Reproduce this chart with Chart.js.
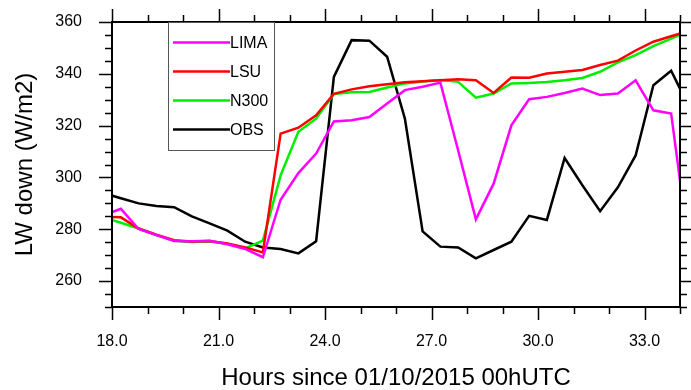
<!DOCTYPE html>
<html>
<head>
<meta charset="utf-8">
<script src="https://cdn.jsdelivr.net/npm/chart.js@4.4.1/dist/chart.umd.min.js"></script>
<style>
  html, body { margin: 0; padding: 0; background: #fff; }
  #wrap { width: 691px; height: 390px; }
</style>
</head>
<body>
<div id="wrap"><canvas id="lwChart" width="691" height="390"></canvas></div>
<script>
// DATA
const hours = [17.75, 18.25, 18.75, 19.25, 19.75, 20.25, 20.75, 21.25, 21.75, 22.25,
               22.75, 23.25, 23.75, 24.25, 24.75, 25.25, 25.75, 26.25, 26.75, 27.25,
               27.75, 28.25, 28.75, 29.25, 29.75, 30.25, 30.75, 31.25, 31.75, 32.25,
               32.75, 33.25, 33.75, 34.25];

const lima = [285.3, 287.9, 280.1, 277.8, 275.5, 275.4, 275.6, 274.2, 272.4, 269.2,
              291.4, 301.7, 309.2, 321.6, 322.1, 323.3, 328.5, 333.7, 335.0, 336.6,
              310.5, 283.8, 297.6, 320.1, 330.2, 331.1, 332.6, 334.3, 331.8, 332.4,
              337.5, 325.9, 324.7, 272.9];

const lsu = [284.8, 284.6, 280.3, 277.9, 275.8, 275.3, 275.5, 274.5, 273.0, 271.1,
             316.9, 319.2, 324.0, 332.3, 334.0, 335.2, 336.0, 336.7, 337.1, 337.5,
             337.9, 337.5, 332.6, 338.6, 338.5, 340.1, 340.8, 341.5, 343.4, 345.1,
             349.0, 352.4, 354.5, 356.5];

const n300 = [284.7, 282.5, 280.3, 277.8, 275.6, 275.1, 275.3, 274.4, 272.6, 275.6,
              300.8, 317.6, 322.7, 332.2, 332.9, 333.0, 334.7, 336.3, 337.0, 337.6,
              336.9, 330.8, 332.4, 336.3, 336.5, 336.8, 337.5, 338.4, 340.8, 344.4,
              347.2, 350.7, 353.6, 356.5];

const obs = [294.0, 292.0, 290.0, 289.0, 288.5, 285.0, 282.3, 279.5, 275.2, 273.0,
             272.4, 270.7, 275.4, 338.8, 353.0, 352.8, 346.6, 322.7, 279.2, 273.3,
             273.0, 268.8, 272.0, 275.2, 285.2, 283.6, 307.5, 297.0, 287.0, 296.2,
             308.5, 335.6, 341.2, 327.4];

const seriesNames = ['LIMA', 'LSU', 'N300', 'OBS'];
const seriesColors = ['#ff00ff', '#ff0000', '#00ee00', '#000000'];
const xMin = 18, xMax = 34, xMajor = 3, xMinor = 1;
const yMin = 250, yMax = 360, yMajor = 20, yMinor = 5;

Chart.defaults.font.family = "'Liberation Sans', Arial, Helvetica, sans-serif";
Chart.defaults.color = '#000';

function toPoints(vals) {
    return vals.map(function(v, i) { return {x: hours[i], y: v}; });
}

// frame with outward major/minor ticks on all four sides
const frameTicks = {
    id: 'frameTicks',
    afterDraw(chart) {
        const ctx = chart.ctx, a = chart.chartArea;
        const x = chart.scales.x, y = chart.scales.y;
        ctx.save();
        ctx.strokeStyle = '#000';
        ctx.lineWidth = 1.5;
        ctx.beginPath();
        for (let v = xMin; v <= xMax; v += xMinor) {
            const px = Math.round(x.getPixelForValue(v)) + 0.5;
            const len = ((v - xMin) % xMajor === 0) ? 13 : 7;
            ctx.moveTo(px, a.bottom); ctx.lineTo(px, a.bottom + len);
            ctx.moveTo(px, a.top); ctx.lineTo(px, a.top - len);
        }
        for (let v = yMin; v <= yMax; v += yMinor) {
            const py = Math.round(y.getPixelForValue(v)) + 0.5;
            const len = (v % yMajor === 0) ? 13 : 7;
            ctx.moveTo(a.left, py); ctx.lineTo(a.left - len, py);
            ctx.moveTo(a.right, py); ctx.lineTo(a.right + len, py);
        }
        ctx.stroke();
        ctx.lineWidth = 2;
        ctx.strokeRect(a.left, a.top, a.right - a.left, a.bottom - a.top);
        ctx.restore();
    }
};

// boxed legend inside the plot, top left
const boxLegend = {
    id: 'boxLegend',
    afterDraw(chart) {
        const ctx = chart.ctx, a = chart.chartArea;
        const bx = a.left + 56, by = a.top, bw = 106, bh = 128;
        ctx.save();
        ctx.fillStyle = '#fff';
        ctx.fillRect(bx, by, bw, bh);
        ctx.strokeStyle = '#555';
        ctx.lineWidth = 1;
        ctx.strokeRect(bx + 0.5, by + 0.5, bw, bh);
        ctx.font = "16px 'Liberation Sans', Arial, sans-serif";
        ctx.textBaseline = 'middle';
        chart.data.datasets.forEach(function(ds, i) {
            const ly = by + 20.5 + i * 29;
            ctx.strokeStyle = ds.borderColor;
            ctx.lineWidth = ds.borderWidth;
            ctx.beginPath();
            ctx.moveTo(bx + 5, ly);
            ctx.lineTo(bx + 62, ly);
            ctx.stroke();
            ctx.fillStyle = '#000';
            ctx.fillText(ds.label, bx + 62, ly + 1);
        });
        ctx.restore();
    }
};

const ctx = document.getElementById('lwChart').getContext('2d');
new Chart(ctx, {
    type: 'line',
    data: {
        datasets: [lima, lsu, n300, obs].map(function(vals, i) {
            return {
                label: seriesNames[i],
                data: toPoints(vals),
                borderColor: seriesColors[i],
                backgroundColor: seriesColors[i],
                borderWidth: 2.5,
                pointRadius: 0,
                tension: 0,
                clip: 0
            };
        })
    },
    options: {
        responsive: false,
        animation: false,
        layout: { padding: { top: 22, right: 11, left: 0, bottom: 0 } },
        plugins: { legend: { display: false }, tooltip: { enabled: false } },
        scales: {
            x: {
                type: 'linear',
                min: xMin,
                max: xMax,
                grid: { display: false, drawTicks: false },
                border: { display: false },
                ticks: {
                    stepSize: xMajor,
                    includeBounds: false,
                    padding: 25,
                    font: { size: 16 },
                    callback: function(v) { return v.toFixed(1); }
                },
                title: {
                    display: true,
                    text: 'Hours since 01/10/2015 00hUTC',
                    font: { size: 24, lineHeight: 1 },
                    padding: { top: 0, bottom: 0 }
                },
                afterFit: function(s) {
                    s.height = 83;
                    s.paddingLeft = 0; s.paddingRight = 0;
                }
            },
            y: {
                min: yMin,
                max: yMax,
                grid: { display: false, drawTicks: false },
                border: { display: false },
                ticks: {
                    stepSize: yMajor,
                    includeBounds: false,
                    padding: 30,
                    font: { size: 16 }
                },
                title: {
                    display: true,
                    text: 'LW down (W/m2)',
                    font: { size: 24, lineHeight: 1 },
                    padding: { top: 13, bottom: 0 }
                },
                afterFit: function(s) {
                    s.width = 112;
                    s.paddingTop = 0; s.paddingBottom = 0;
                }
            }
        }
    },
    plugins: [frameTicks, boxLegend]
});
</script>
</body>
</html>
